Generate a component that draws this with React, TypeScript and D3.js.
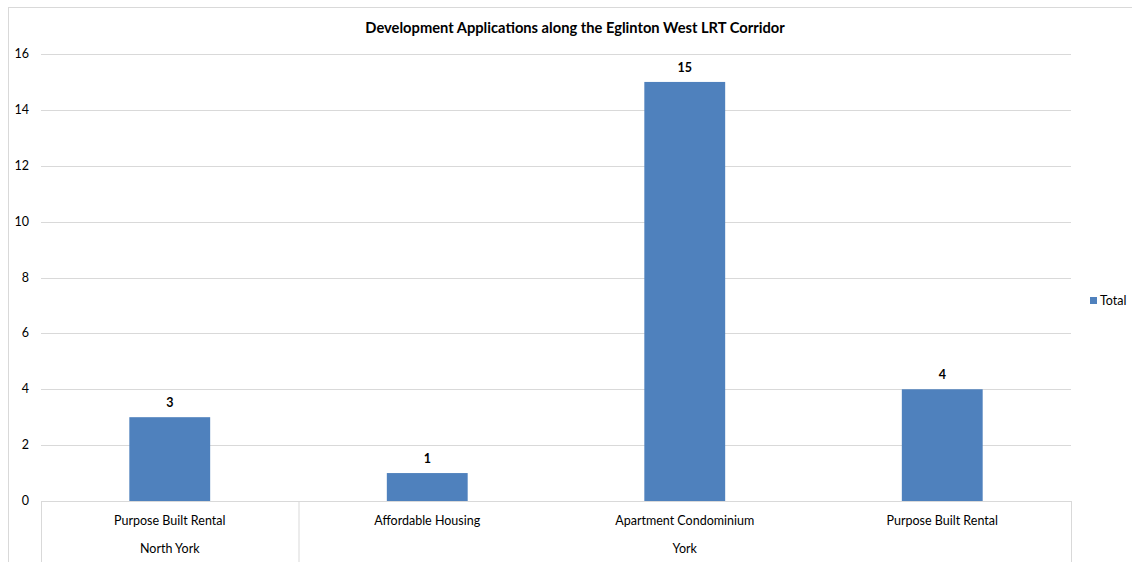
import React from "react";
import * as d3 from "d3";

const categories = ["Purpose Built Rental", "Affordable Housing", "Apartment Condominium", "Purpose Built Rental"];
const groups = ["North York", "York", "York", "York"];
const totals = [3, 1, 15, 4];
const yTicks = [0, 2, 4, 6, 8, 10, 12, 14, 16];
const title = "Development Applications along the Eglinton West LRT Corridor";
const seriesName = "Total";

const W = 1132;
const H = 562;
const FONT = "Lato, 'Open Sans', sans-serif";
const BAR = "#4f81bd";
const GRID = "#d9d9d9";

export default function App() {
  const left = 41;
  const right = 1071;
  const top = 54;
  const bottom = 501;

  const x = d3
    .scaleBand<number>()
    .domain(d3.range(categories.length))
    .range([left, right])
    .paddingInner(0.686)
    .paddingOuter(0.343);
  const step = (right - left) / categories.length;
  const y = d3.scaleLinear().domain([0, 16]).range([bottom, top]);

  // group spans on the second axis level
  const spans: { name: string; start: number; end: number }[] = [];
  groups.forEach((g, i) => {
    const last = spans[spans.length - 1];
    if (last && last.name === g) last.end = i;
    else spans.push({ name: g, start: i, end: i });
  });

  return (
    <svg
      width={W}
      height={H}
      style={{ position: "absolute", left: 0, top: 0, background: "#fff" }}
      fontFamily={FONT}
    >
      {/* chart frame */}
      <line x1={8} x2={W} y1={7.5} y2={7.5} stroke={GRID} />
      <line x1={8.5} x2={8.5} y1={7} y2={H} stroke={GRID} />

      <text x={575} y={33} textAnchor="middle" fontSize={14.7} fontWeight="bold" fill="#000">
        {title}
      </text>

      {yTicks.map((t) => (
        <g key={t}>
          {t > 0 && (
            <line x1={left} x2={right} y1={Math.round(y(t)) + 0.5} y2={Math.round(y(t)) + 0.5} stroke={GRID} />
          )}
          <text x={29} y={y(t) + 4} textAnchor="end" fontSize={12.5} fill="#000">
            {t}
          </text>
        </g>
      ))}

      {totals.map((v, i) => (
        <g key={i}>
          <rect x={x(i)} y={y(v)} width={x.bandwidth()} height={y(0) - y(v)} fill={BAR} />
          <text
            x={(x(i) as number) + x.bandwidth() / 2}
            y={y(v) - 10}
            textAnchor="middle"
            fontSize={12.5}
            fontWeight="bold"
            fill="#000"
          >
            {v}
          </text>
        </g>
      ))}

      {/* multi-level category axis */}
      <line x1={left} x2={right} y1={bottom + 0.5} y2={bottom + 0.5} stroke={GRID} />
      {spans.map((s) => (
        <line
          key={"d" + s.start}
          x1={left + s.start * step + 0.5}
          x2={left + s.start * step + 0.5}
          y1={bottom}
          y2={H}
          stroke={GRID}
        />
      ))}
      <line x1={right + 0.5} x2={right + 0.5} y1={bottom} y2={H} stroke={GRID} />
      {categories.map((c, i) => (
        <text key={"c" + i} x={left + (i + 0.5) * step} y={525} textAnchor="middle" fontSize={12.5} fill="#000">
          {c}
        </text>
      ))}
      {spans.map((s) => (
        <text
          key={"g" + s.start}
          x={left + ((s.start + s.end + 1) / 2) * step}
          y={553}
          textAnchor="middle"
          fontSize={12.5}
          fill="#000"
        >
          {s.name}
        </text>
      ))}

      {/* legend */}
      <rect x={1090} y={297} width={7} height={7} fill={BAR} />
      <text x={1100} y={305} fontSize={12.5} fill="#000">
        {seriesName}
      </text>
    </svg>
  );
}
